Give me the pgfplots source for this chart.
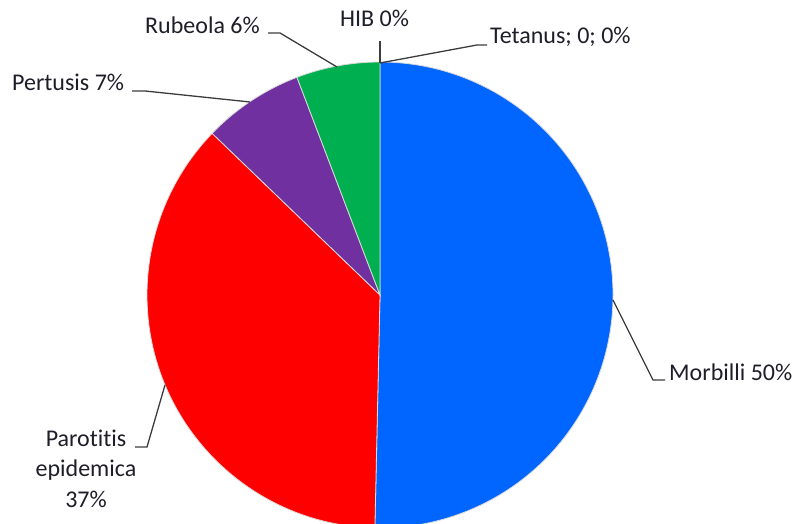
\documentclass[border=0pt]{standalone}
\usepackage{pgfplots}
\pgfplotsset{compat=1.18}
\usepackage{pgfplotstable}
\usepackage{fontspec}
\setmainfont{Carlito}[Ligatures=NoCommon]

\definecolor{slice0}{RGB}{0,102,255}
\definecolor{slice1}{RGB}{255,0,0}
\definecolor{slice2}{RGB}{112,48,160}
\definecolor{slice3}{RGB}{0,176,80}
\definecolor{labeltext}{RGB}{30,30,40}
\definecolor{leader}{RGB}{60,60,60}

% share of cases (%), clockwise from the top
\pgfplotstableread{
name value
Morbilli 50.35
Parotitis 36.85
Pertusis 7.0
Rubeola 5.8
HIB 0
Tetanus 0
}\piedata

\tikzset{lbl/.style={font=\fontsize{24}{28}\selectfont, text=labeltext, inner sep=0pt}}

\begin{document}
\begin{tikzpicture}
\useasboundingbox (0,0) rectangle (798pt,524pt);
\clip (0,0) rectangle (798pt,524pt);
% start/end angle of each slice from the table
\gdef\acc{0}
\foreach \i in {0,...,5}{%
  \pgfplotstablegetelem{\i}{value}\of\piedata
  \pgfmathparse{90-3.6*\acc}\expandafter\xdef\csname sa\i\endcsname{\pgfmathresult}%
  \pgfmathparse{\acc+\pgfplotsretval}\xdef\acc{\pgfmathresult}%
  \pgfmathparse{90-3.6*\acc}\expandafter\xdef\csname ea\i\endcsname{\pgfmathresult}%
}
\begin{axis}[
    at={(0,0)}, anchor=south west,
    width=798pt, height=524pt, scale only axis,
    xmin=0, xmax=798, ymin=0, ymax=524,
    hide axis, clip=false,
  ]
  \pgfplotsinvokeforeach{0,...,3}{
    \filldraw[fill=slice#1, draw=white!85!black, line width=0.8pt]
      (axis cs:380,229) -- ++({\csname sa#1\endcsname}:233pt)
      arc[start angle=\csname sa#1\endcsname, end angle=\csname ea#1\endcsname, radius=233pt] -- cycle;
  }
  % leader lines
  \begin{scope}[leader, line width=1.3pt]
  \draw (axis cs:613,224) -- (axis cs:653,144) -- (axis cs:665,144);
  \draw (axis cs:165,139) -- (axis cs:147,77) -- (axis cs:135,77);
  \draw (axis cs:250,422) -- (axis cs:145,433) -- (axis cs:132,433);
  \draw (axis cs:337,457) -- (axis cs:280,491) -- (axis cs:268,491);
  \draw (axis cs:380,461) -- (axis cs:380,483);
  \draw (axis cs:380,461) -- (axis cs:477,479) -- (axis cs:487,479);
  \end{scope}
  % labels
  \node[lbl, anchor=base west] at (axis cs:669,143) {Morbilli 50\%};
  \node[lbl, anchor=base] at (axis cs:86,77) {Parotitis};
  \node[lbl, anchor=base] at (axis cs:86,47) {epidemica};
  \node[lbl, anchor=base] at (axis cs:86,16) {37\%};
  \node[lbl, anchor=base west] at (axis cs:12,433) {Pertusis 7\%};
  \node[lbl, anchor=base west] at (axis cs:145,490) {Rubeola 6\%};
  \node[lbl, anchor=base west] at (axis cs:340,497) {HIB 0\%};
  \node[lbl, anchor=base west] at (axis cs:490,480) {Tetanus; 0; 0\%};
\end{axis}
\end{tikzpicture}
\end{document}
